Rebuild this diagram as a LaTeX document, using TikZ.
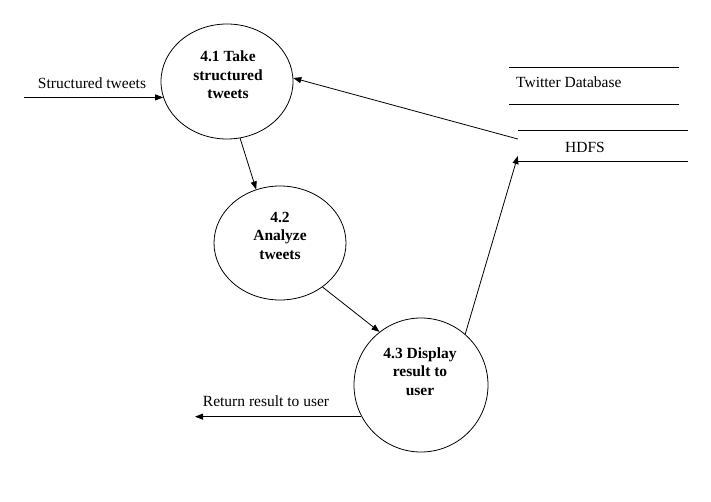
\documentclass[tikz,border=0pt]{standalone}
\usepackage{fontspec}
\setmainfont{Liberation Serif}
\usetikzlibrary{shapes.geometric,arrows.meta}
\begin{document}
\begin{tikzpicture}[x=1pt,y=-1pt,
  proc/.style={draw,ellipse,line width=0.8pt,inner sep=0pt},
  ptext/.style={align=center,font=\rmfamily\fontsize{15.5}{18.5}\selectfont\bfseries,inner sep=0pt},
  ltext/.style={font=\rmfamily\fontsize{15.5}{18.5}\selectfont,inner sep=0pt,anchor=base},
  store/.style={inner sep=0pt,minimum height=0pt},
  flow/.style={line width=0.8pt,-{Triangle[length=8pt,width=6pt]}},
  sline/.style={line width=0.8pt}]
\useasboundingbox (0,0) rectangle (711,502);
% processes
\node[proc,minimum width=132pt,minimum height=115pt] (c1) at (227,81.5) {};
\node[proc,minimum width=132pt,minimum height=114pt] (c2) at (280,243) {};
\node[proc,minimum width=134pt,minimum height=134pt] (c3) at (421,385) {};
\node[ptext] (t1) at (228,75) {4.1 Take\\structured\\tweets};
\node[ptext] (t2) at (280,235.5) {4.2\\Analyze\\tweets};
\node[ptext] (t3) at (420,371.5) {4.3 Display\\result to\\user};
% data stores
\node[store,minimum width=170pt,minimum height=36pt] (tdb) at (594,86) {};
\draw[sline] (tdb.north west) -- (tdb.north east);
\draw[sline] (tdb.south west) -- (tdb.south east);
\node[ltext,anchor=base west] (tdbl) at (516,88) {Twitter Database};
\node[store,minimum width=170pt,minimum height=30pt] (hdfs) at (603,146) {};
\draw[sline] (hdfs.north west) -- (hdfs.north east);
\draw[sline] (hdfs.south west) -- (hdfs.south east);
\node[ltext] (hdfsl) at (585,153) {HDFS};
% external flows
\coordinate (src) at (24,97);
\coordinate (ret) at (195,418);
\node[ltext] (srcl) at (92,89) {Structured tweets};
\node[ltext] (retl) at (266,406) {Return result to user};
\draw[flow] (c1.-166 -| src) -- (c1.-166);
\draw[flow] (c3.-152) -- (c3.-152 -| ret);
% internal flows
\draw[flow] (c1.-77) -- (c2.114);
\draw[flow] (c2.-46) -- (c3.128);
\draw[flow] (c3.49) -- ([yshift=-10pt]hdfs.west);
\draw[flow] ([yshift=7pt]hdfs.west) -- (c1.3);
\end{tikzpicture}
\end{document}
